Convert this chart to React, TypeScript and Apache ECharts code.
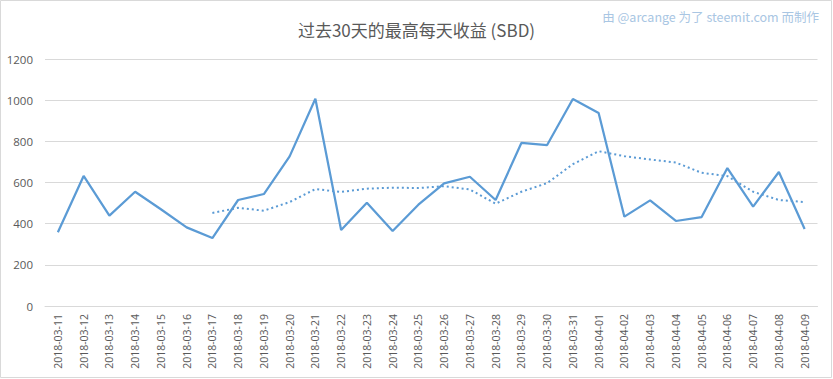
import React, { useEffect, useRef } from "react";
import * as echarts from "echarts";

const categories = [
  "2018-03-11", "2018-03-12", "2018-03-13", "2018-03-14", "2018-03-15",
  "2018-03-16", "2018-03-17", "2018-03-18", "2018-03-19", "2018-03-20",
  "2018-03-21", "2018-03-22", "2018-03-23", "2018-03-24", "2018-03-25",
  "2018-03-26", "2018-03-27", "2018-03-28", "2018-03-29", "2018-03-30",
  "2018-03-31", "2018-04-01", "2018-04-02", "2018-04-03", "2018-04-04",
  "2018-04-05", "2018-04-06", "2018-04-07", "2018-04-08", "2018-04-09",
];

const dailyMax = [
  358, 632, 439, 555, 470, 382, 330, 515, 544, 727,
  1007, 369, 502, 364, 492, 596, 628, 515, 792, 782,
  1006, 938, 434, 513, 413, 432, 670, 483, 651, 374,
];

const movingAvg: (number | null)[] = [
  null, null, null, null, null, null, 452, 477, 463, 505,
  568, 554, 570, 575, 573, 582, 566, 497, 555, 597,
  689, 752, 728, 712, 697, 647, 631, 555, 515, 505,
];

const yTicks = { min: 0, max: 1200, interval: 200 };

const titleText = "过去30天的最高每天收益 (SBD)";
const creditText = "由 @arcange 为了 steemit.com 而制作";

export default function App() {
  const ref = useRef<HTMLDivElement>(null);
  useEffect(() => {
    if (!ref.current) return;
    const chart = echarts.init(ref.current, undefined, { renderer: "svg" });
    const font = "'Open Sans', 'Noto Sans CJK SC', sans-serif";
    chart.setOption({
      animation: false,
      backgroundColor: "#ffffff",
      textStyle: { fontFamily: font },
      title: {
        text: titleText,
        left: "center",
        top: 16,
        textStyle: {
          fontFamily: "'Noto Sans CJK SC', sans-serif",
          fontSize: 17,
          fontWeight: "normal",
          color: "#595959",
        },
      },
      graphic: [
        {
          type: "rect",
          shape: { x: 0.5, y: 0.5, width: 831, height: 377 },
          style: { fill: "none", stroke: "#D9D9D9", lineWidth: 1 },
          silent: true,
        },
        {
          type: "text",
          right: 14,
          top: 10,
          style: {
            text: creditText,
            fill: "#A9C6E3",
            fontSize: 12.5,
            fontFamily: "'Noto Sans CJK SC', sans-serif",
          },
        },
      ],
      grid: { left: 45, right: 15.5, top: 59, bottom: 73, containLabel: false },
      xAxis: {
        type: "category",
        data: categories,
        boundaryGap: true,
        axisLine: { lineStyle: { color: "#D9D9D9", width: 1 } },
        axisTick: { show: false },
        axisLabel: {
          rotate: 90,
          interval: 0,
          margin: 8,
          fontSize: 10.5,
          color: "#595959",
          fontFamily: font,
        },
      },
      yAxis: {
        type: "value",
        min: yTicks.min,
        max: yTicks.max,
        interval: yTicks.interval,
        axisLine: { show: false },
        axisTick: { show: false },
        splitLine: { lineStyle: { color: "#D9D9D9", width: 1 } },
        axisLabel: {
          fontSize: 11.5,
          color: "#595959",
          margin: 12,
          fontFamily: font,
          formatter: (v: number) => String(v),
        },
      },
      series: [
        {
          type: "line",
          data: dailyMax,
          showSymbol: false,
          symbol: "none",
          lineStyle: { color: "#5B9BD5", width: 2.25 },
          z: 3,
        },
        {
          type: "line",
          data: movingAvg,
          showSymbol: false,
          symbol: "none",
          connectNulls: false,
          lineStyle: { color: "#5B9BD5", width: 2, type: [2, 3], cap: "butt" },
          z: 2,
        },
      ],
    });
    return () => chart.dispose();
  }, []);
  return (
    <div
      ref={ref}
      style={{ position: "fixed", left: 0, top: 0, width: 833, height: 379 }}
    />
  );
}
